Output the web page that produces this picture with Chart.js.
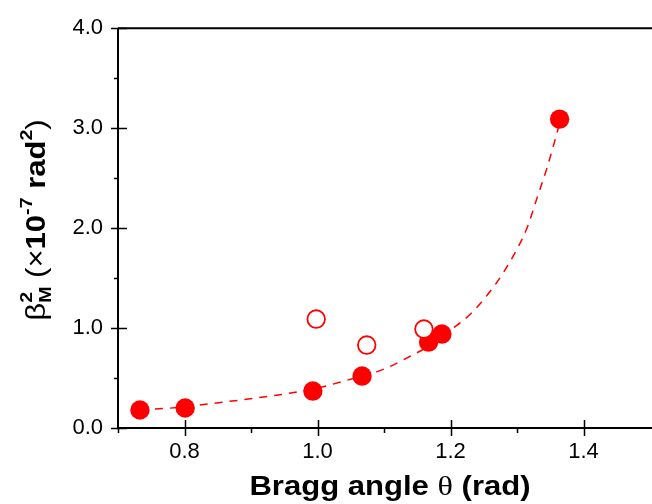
<!DOCTYPE html>
<html>
<head>
<meta charset="utf-8">
<script src="https://cdn.jsdelivr.net/npm/chart.js@4.4.1/dist/chart.umd.min.js"></script>
<style>
  html, body { margin: 0; padding: 0; background: #fff; }
  #wrap { width: 652px; height: 504px; }
</style>
</head>
<body>
<div id="wrap"><canvas id="braggChart" width="652" height="504"></canvas></div>
<script>
// Pontos cheios
const filledX = [0.733, 0.801, 0.993, 1.067, 1.167, 1.187, 1.364];
const filledY = [0.18, 0.20, 0.37, 0.52, 0.86, 0.94, 3.09];

// Pontos vazios
const openX = [0.998, 1.074, 1.160];
const openY = [1.09, 0.83, 0.99];

// Curva ajustada
const fitX = [0.733, 0.756, 0.80, 0.835, 0.884, 0.93, 0.96, 1.00, 1.04, 1.10, 1.14, 1.17, 1.20, 1.23, 1.26, 1.28, 1.30, 1.315, 1.33, 1.345, 1.355, 1.364];
const fitY = [0.18, 0.19, 0.21, 0.24, 0.28, 0.32, 0.35, 0.40, 0.47, 0.59, 0.72, 0.83, 0.98, 1.14, 1.37, 1.56, 1.79, 2.00, 2.30, 2.60, 2.83, 3.05];

// Marcas dos eixos
const xMajor = [0.8, 1.0, 1.2, 1.4];
const xMinor = [0.7, 0.9, 1.1, 1.3];
const yMajor = [0, 1, 2, 3, 4];
const yMinor = [0.5, 1.5, 2.5, 3.5];

const RED = '#ff0000';

function toPoints(xs, ys) {
    return xs.map((x, i) => ({ x: x, y: ys[i] }));
}

// Desenha texto com sub/sobrescritos
function drawRich(ctx, parts, cx, cy, angle, stretch) {
    let w = 0, lastStart = 0;
    const pos = [];
    parts.forEach(p => {
        ctx.font = p.font;
        const tw = ctx.measureText(p.text).width;
        const start = p.stack ? lastStart : w;
        pos.push(start);
        lastStart = start;
        w = Math.max(w, start + tw);
    });
    ctx.save();
    ctx.translate(cx, cy);
    ctx.rotate(angle);
    ctx.scale(stretch, 1);
    ctx.fillStyle = '#000';
    ctx.textBaseline = 'alphabetic';
    ctx.textAlign = 'left';
    parts.forEach((p, i) => {
        ctx.font = p.font;
        ctx.fillText(p.text, pos[i] - w / 2, p.dy || 0);
    });
    ctx.restore();
}

const SANS = '"Liberation Sans", Arial, sans-serif';
const SERIF = '"Liberation Serif", "Times New Roman", serif';

const xTitle = [
    { text: 'Bragg angle ', font: 'bold 27px ' + SANS },
    { text: '\u03B8', font: 'normal 28px ' + SERIF },
    { text: ' (rad)', font: 'bold 27px ' + SANS }
];

const yTitle = [
    { text: '\u03B2', font: 'normal 27px ' + SANS },
    { text: 'M', font: 'bold 17px ' + SANS, dy: 6 },
    { text: '2', font: 'bold 17px ' + SANS, dy: -13, stack: true },
    { text: ' (', font: 'normal 27px ' + SANS },
    { text: '\u00D7', font: 'normal 27px ' + SANS },
    { text: '10', font: 'bold 27px ' + SANS },
    { text: '-7', font: 'bold 17px ' + SANS, dy: -13 },
    { text: ' rad', font: 'bold 27px ' + SANS },
    { text: '2', font: 'bold 17px ' + SANS, dy: -13 },
    { text: ')', font: 'normal 27px ' + SANS }
];

// Eixos, marcas e títulos
const framePlugin = {
    id: 'frame',
    afterDatasetsDraw(chart) {
        const ctx = chart.ctx;
        const a = chart.chartArea;
        const sx = chart.scales.x, sy = chart.scales.y;
        ctx.save();
        ctx.strokeStyle = '#000';
        ctx.lineWidth = 2;
        ctx.beginPath();
        ctx.moveTo(a.left, a.bottom);
        ctx.lineTo(a.left, a.top);
        ctx.moveTo(a.left, a.top);
        ctx.lineTo(chart.width, a.top);
        ctx.moveTo(a.left, a.bottom);
        ctx.lineTo(chart.width, a.bottom);
        ctx.stroke();

        ctx.lineWidth = 1.5;
        ctx.beginPath();
        xMajor.forEach(v => {
            const px = Math.round(sx.getPixelForValue(v)) + 0.5;
            ctx.moveTo(px, a.bottom - 8);
            ctx.lineTo(px, a.bottom + 8);
        });
        xMinor.forEach(v => {
            const px = Math.round(sx.getPixelForValue(v)) + 0.5;
            ctx.moveTo(px, a.bottom);
            ctx.lineTo(px, a.bottom + 5);
        });
        yMajor.forEach(v => {
            const py = Math.round(sy.getPixelForValue(v)) + 0.5;
            ctx.moveTo(a.left - 7, py);
            ctx.lineTo(a.left + 9, py);
        });
        yMinor.forEach(v => {
            const py = Math.round(sy.getPixelForValue(v)) + 0.5;
            ctx.moveTo(a.left - 4, py);
            ctx.lineTo(a.left, py);
        });
        ctx.stroke();
        ctx.restore();

        drawRich(ctx, xTitle, 390, 495, 0, 1.15);
        drawRich(ctx, yTitle, 45, 220, -Math.PI / 2, 1.15);
    }
};

function createChart() {
    const ctx = document.getElementById('braggChart').getContext('2d');

    window.braggChart = new Chart(ctx, {
        type: 'scatter',
        data: {
            datasets: [
                {
                    label: 'open',
                    data: toPoints(openX, openY),
                    pointRadius: 8.8,
                    pointBorderWidth: 1.8,
                    pointBorderColor: RED,
                    pointBackgroundColor: '#fff',
                    order: 0
                },
                {
                    label: 'filled',
                    data: toPoints(filledX, filledY),
                    pointRadius: 9.7,
                    pointBorderWidth: 0,
                    pointBackgroundColor: RED,
                    order: 1
                },
                {
                    label: 'fit',
                    data: toPoints(fitX, fitY),
                    showLine: true,
                    borderColor: RED,
                    borderWidth: 1.5,
                    borderDash: [8, 7],
                    cubicInterpolationMode: 'monotone',
                    pointRadius: 0,
                    order: 2
                }
            ]
        },
        options: {
            responsive: false,
            animation: false,
            layout: { padding: { top: 25, right: 0, left: 0, bottom: 0 } },
            plugins: {
                legend: { display: false },
                tooltip: { enabled: false }
            },
            scales: {
                x: {
                    type: 'linear',
                    min: 0.7,
                    max: 1.487,
                    afterBuildTicks: s => { s.ticks = xMajor.map(v => ({ value: v })); },
                    afterFit: s => { s.height = 76; },
                    grid: { display: false, drawTicks: false },
                    border: { display: false },
                    ticks: {
                        padding: 11,
                        color: '#000',
                        maxRotation: 0,
                        autoSkip: false,
                        font: { family: 'Liberation Sans', size: 22 },
                        callback: v => v.toFixed(1)
                    }
                },
                y: {
                    type: 'linear',
                    min: 0,
                    max: 4,
                    afterBuildTicks: s => { s.ticks = yMajor.map(v => ({ value: v })); },
                    afterFit: s => { s.width = 118; },
                    grid: { display: false, drawTicks: false },
                    border: { display: false },
                    ticks: {
                        padding: 15,
                        color: '#000',
                        autoSkip: false,
                        font: { family: 'Liberation Sans', size: 22 },
                        callback: v => v.toFixed(1)
                    }
                }
            }
        },
        plugins: [framePlugin]
    });
}

window.onload = createChart;
</script>
</body>
</html>
